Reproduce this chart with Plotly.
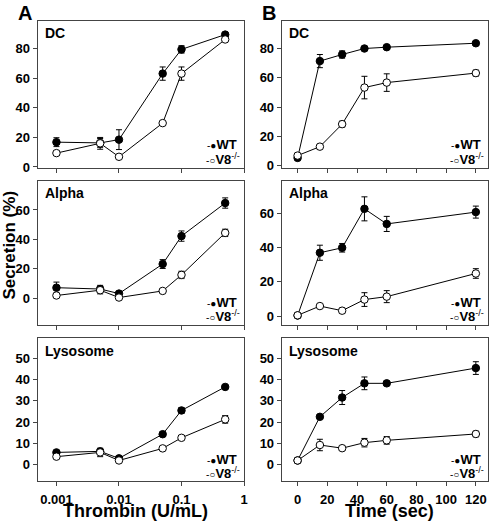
import plotly.graph_objects as go

# ---------------- data ----------------
conc = [0.001, 0.005, 0.01, 0.05, 0.1, 0.5]
time_s = [0, 15, 30, 45, 60, 120]

dc_conc_wt = [16.8, 16.3, 18.5, 63.2, 79.6, 89.6]
dc_conc_wt_err = [3, 3, 6.7, 4.5, 2.5, 1]
dc_conc_v8 = [9.4, 16.0, 6.9, 29.7, 63.2, 86.3]
dc_conc_v8_err = [1.5, 4, 0.5, 0.5, 4.5, 1]

dc_time_wt = [5.2, 71.4, 75.9, 80.0, 80.9, 83.6]
dc_time_wt_err = [1, 4.5, 2.5, 1, 0.5, 1]
dc_time_v8 = [6.8, 12.9, 28.3, 53.3, 56.7, 63.2]
dc_time_v8_err = [1.5, 1.5, 2, 7.7, 6, 2]

alpha_conc_wt = [7.1, 6.2, 3.1, 23.2, 42.2, 64.7]
alpha_conc_wt_err = [3.8, 2.5, 1, 3, 3.5, 3.5]
alpha_conc_v8 = [1.8, 5.4, 0.4, 4.9, 15.8, 44.4]
alpha_conc_v8_err = [0.5, 2.5, 0.5, 0.5, 2.5, 2.5]

alpha_time_wt = [0.3, 36.9, 39.8, 62.5, 53.7, 60.6]
alpha_time_wt_err = [0.5, 4.4, 2.5, 7, 4.4, 3.5]
alpha_time_v8 = [0.4, 5.8, 3.1, 9.6, 11.3, 24.8]
alpha_time_v8_err = [0.5, 0.5, 1.5, 4, 3.5, 2.8]

lyso_conc_wt = [5.7, 6.2, 2.9, 14.3, 25.5, 36.6]
lyso_conc_wt_err = [0.7, 1, 0.5, 1, 1.3, 0.6]
lyso_conc_v8 = [3.7, 5.7, 1.9, 7.6, 12.6, 21.3]
lyso_conc_v8_err = [0.8, 2, 0.5, 0.5, 0.7, 1.8]

lyso_time_wt = [1.9, 22.5, 31.6, 38.3, 38.3, 45.5]
lyso_time_wt_err = [0.5, 0.5, 3.3, 3, 1, 3]
lyso_time_v8 = [1.9, 9.2, 7.7, 10.3, 11.4, 14.4]
lyso_time_v8_err = [0.5, 2.7, 1, 2, 1.8, 1.3]

panel_names = ["DC", "Alpha", "Lysosome"]
conc_ticks = [0.001, 0.01, 0.1, 1]
conc_ticklabels = ["0.001", "0.01", "0.1", "1"]
time_ticks = [0, 20, 40, 60, 80, 100, 120]

# ---------------- layout geometry ----------------
W, H = 495, 522
FONT = "Liberation Sans, Arial, sans-serif"
xdomA = [38 / W, 246 / W]
xdomB = [284 / W, 492 / W]
ydoms = [[1 - 170 / H, 1 - 21 / H], [1 - 329 / H, 1 - 183 / H], [1 - 488 / H, 1 - 343 / H]]
yrangesA = [[-0.5, 99], [-18, 80], [-8, 59.5]]
yrangesB = [[-1.5, 99], [-5, 79], [-8, 59.5]]
yticks = [[0, 20, 40, 60, 80], [0, 20, 40, 60], [0, 10, 20, 30, 40, 50]]

panels = [
    (conc, dc_conc_wt, dc_conc_wt_err, dc_conc_v8, dc_conc_v8_err),
    (time_s, dc_time_wt, dc_time_wt_err, dc_time_v8, dc_time_v8_err),
    (conc, alpha_conc_wt, alpha_conc_wt_err, alpha_conc_v8, alpha_conc_v8_err),
    (time_s, alpha_time_wt, alpha_time_wt_err, alpha_time_v8, alpha_time_v8_err),
    (conc, lyso_conc_wt, lyso_conc_wt_err, lyso_conc_v8, lyso_conc_v8_err),
    (time_s, lyso_time_wt, lyso_time_wt_err, lyso_time_v8, lyso_time_v8_err),
]

fig = go.Figure()
layout = dict(
    width=W, height=H, margin=dict(l=0, r=0, t=0, b=0),
    paper_bgcolor="white", plot_bgcolor="white", showlegend=False,
    font=dict(family=FONT, color="black"),
)
annotations = []

for i, (xs, wt, wte, v8, v8e) in enumerate(panels):
    row, col = i // 2, i % 2
    n = i + 1
    xa = "x" if n == 1 else f"x{n}"
    ya = "y" if n == 1 else f"y{n}"
    err_style = dict(type="data", thickness=1, width=3, color="black")
    fig.add_trace(go.Scatter(
        x=xs, y=wt, mode="lines+markers", xaxis=xa, yaxis=ya,
        line=dict(color="black", width=1),
        marker=dict(symbol="circle", size=7.5, color="black", line=dict(color="black", width=1)),
        error_y=dict(array=wte, **err_style),
    ))
    fig.add_trace(go.Scatter(
        x=xs, y=v8, mode="lines+markers", xaxis=xa, yaxis=ya,
        line=dict(color="black", width=1),
        marker=dict(symbol="circle", size=7.5, color="white", line=dict(color="black", width=1)),
        error_y=dict(array=v8e, **err_style),
    ))

    axkey_x = "xaxis" if n == 1 else f"xaxis{n}"
    axkey_y = "yaxis" if n == 1 else f"yaxis{n}"
    show_xlabels = row == 2
    if col == 0:
        xax = dict(type="log", range=[-3.3, 0.0], tickvals=conc_ticks,
                   ticktext=conc_ticklabels, domain=xdomA)
    else:
        xax = dict(range=[-10.7, 128.2], tickvals=time_ticks, domain=xdomB)
    xax.update(anchor=ya, showline=True, mirror=True, linecolor="#444", linewidth=1,
               ticks="outside", ticklen=4, tickcolor="#444", showgrid=False, zeroline=False,
               showticklabels=show_xlabels, ticklabelstandoff=2,
               tickfont=dict(family=FONT, size=13, color="black", weight="bold"))
    yr = yrangesA[row] if col == 0 else yrangesB[row]
    yax = dict(range=yr, tickvals=yticks[row], domain=ydoms[row], anchor=xa,
               showline=True, mirror=True, linecolor="#444", linewidth=1,
               ticks="outside", ticklen=4, tickcolor="#444", showgrid=False, zeroline=False,
               tickfont=dict(family=FONT, size=13, color="black", weight="bold"))
    layout[axkey_x] = xax
    layout[axkey_y] = yax

    # panel name
    annotations.append(dict(
        text=f"<b>{panel_names[row]}</b>", xref=f"{xa} domain", yref=f"{ya} domain",
        x=0.025, y=0.985, xanchor="left", yanchor="top", showarrow=False,
        font=dict(family=FONT, size=14, color="black")))
    # legend
    annotations.append(dict(
        text="<span style='font-size:10px'>-●</span><b>WT</b>",
        xref=f"{xa} domain", yref=f"{ya} domain", x=0.975, y=0.155,
        xanchor="right", yanchor="middle", showarrow=False,
        font=dict(family=FONT, size=13, color="black")))
    annotations.append(dict(
        text="<span style='font-size:10px'>-○</span><b>V8</b><sup>-/-</sup>",
        xref=f"{xa} domain", yref=f"{ya} domain", x=0.99, y=0.06,
        xanchor="right", yanchor="middle", showarrow=False,
        font=dict(family=FONT, size=13, color="black")))

# big labels
annotations += [
    dict(text="<b>A</b>", xref="paper", yref="paper", x=25 / W, y=1,
         xanchor="center", yanchor="top", showarrow=False, font=dict(family=FONT, size=20)),
    dict(text="<b>B</b>", xref="paper", yref="paper", x=271 / W, y=1,
         xanchor="center", yanchor="top", showarrow=False, font=dict(family=FONT, size=20)),
    dict(text="<b>Secretion (%)</b>", xref="paper", yref="paper", x=10 / W, y=1 - 248 / H,
         xanchor="center", yanchor="middle", textangle=-90, showarrow=False,
         font=dict(family=FONT, size=17)),
    dict(text="<b>Thrombin (U/mL)</b>", xref="paper", yref="paper", x=137 / W, y=-8 / H,
         xanchor="center", yanchor="bottom", showarrow=False, font=dict(family=FONT, size=18)),
    dict(text="<b>Time (sec)</b>", xref="paper", yref="paper", x=393 / W, y=-8 / H,
         xanchor="center", yanchor="bottom", showarrow=False, font=dict(family=FONT, size=18)),
]
layout["annotations"] = annotations
fig.update_layout(**layout)
fig.write_html("out.html", config={"displayModeBar": False},
               post_script="document.body.style.margin='0';document.body.style.overflow='hidden';")
